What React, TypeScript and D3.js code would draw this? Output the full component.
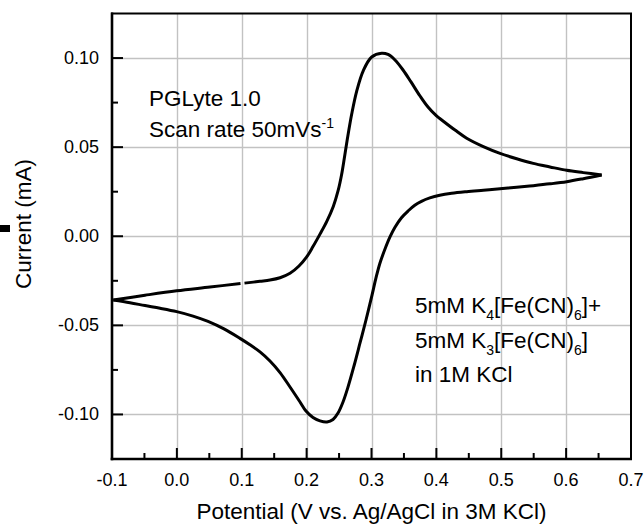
import React from 'react'
import * as d3 from 'd3'

// axis ticks
const xTicks = [-0.1, 0, 0.1, 0.2, 0.3, 0.4, 0.5, 0.6, 0.7]
const xMinorTicks = [-0.05, 0.05, 0.15, 0.25, 0.35, 0.45, 0.55, 0.65]
const yTicks = [-0.1, -0.05, 0, 0.05, 0.1]
const yMinorTicks = [-0.075, -0.025, 0.025, 0.075]
const xGrid = [0, 0.1, 0.2, 0.3, 0.4, 0.5, 0.6]

// forward (anodic) scan: [potential V, current mA], null = small gap in the trace
const forwardScan: ([number, number] | null)[] = [
  [-0.098, -0.0358],
  [-0.0491, -0.0331],
  [-0.0003, -0.0306],
  [0.0511, -0.0285],
  [0.0981, -0.0265],
  null,
  [0.1042, -0.0263],
  [0.1281, -0.0253],
  [0.1435, -0.0246],
  [0.159, -0.0233],
  [0.1744, -0.0208],
  [0.1882, -0.0167],
  [0.2001, -0.0116],
  [0.2098, -0.0058],
  [0.2206, 0.0012],
  [0.2309, 0.0082],
  [0.2411, 0.0167],
  [0.2484, 0.0254],
  [0.2538, 0.0344],
  [0.2584, 0.0445],
  [0.263, 0.0551],
  [0.2695, 0.0686],
  [0.2772, 0.0815],
  [0.2874, 0.093],
  [0.3003, 0.1006],
  [0.3157, 0.1027],
  [0.3254, 0.102],
  [0.3362, 0.0989],
  [0.3486, 0.0933],
  [0.3609, 0.0866],
  [0.3748, 0.0787],
  [0.3871, 0.0725],
  [0.3994, 0.0678],
  [0.4102, 0.0647],
  [0.4287, 0.0596],
  [0.4467, 0.055],
  [0.4724, 0.0503],
  [0.4981, 0.0465],
  [0.5238, 0.0435],
  [0.5494, 0.0409],
  [0.5751, 0.0389],
  [0.6008, 0.037],
  [0.6265, 0.0357],
  [0.6548, 0.0344]
]

// reverse (cathodic) scan
const reverseScan: [number, number][] = [
  [0.6548, 0.0344],
  [0.6265, 0.0323],
  [0.6009, 0.0306],
  [0.5751, 0.0294],
  [0.5494, 0.0284],
  [0.5237, 0.0275],
  [0.4981, 0.0266],
  [0.4724, 0.0258],
  [0.4467, 0.025],
  [0.4236, 0.0241],
  [0.4052, 0.023],
  [0.3899, 0.0215],
  [0.377, 0.0196],
  [0.3667, 0.0174],
  [0.3567, 0.0143],
  [0.3462, 0.0104],
  [0.3362, 0.005],
  [0.3285, -0.0004],
  [0.3208, -0.0072],
  [0.3131, -0.015],
  [0.3069, -0.0234],
  [0.3008, -0.033],
  [0.2915, -0.047],
  [0.2823, -0.0599],
  [0.273, -0.0728],
  [0.2638, -0.0846],
  [0.2561, -0.093],
  [0.2484, -0.0992],
  [0.2407, -0.1028],
  [0.2314, -0.1042],
  [0.2206, -0.1036],
  [0.2098, -0.1017],
  [0.199, -0.0981],
  [0.1898, -0.093],
  [0.1744, -0.0846],
  [0.159, -0.0765],
  [0.1435, -0.07],
  [0.1281, -0.0649],
  [0.1127, -0.0609],
  [0.0973, -0.0573],
  [0.0726, -0.052],
  [0.048, -0.0478],
  [0.0249, -0.0448],
  [-0.0003, -0.0423],
  [-0.026, -0.0404],
  [-0.0491, -0.0389],
  [-0.0723, -0.0373],
  [-0.098, -0.0358]
]

const font = "'Liberation Sans', Arial, sans-serif"

const left = 112
const right = 631
const top = 13.5
const bottom = 459

function App () {
  const x = d3.scaleLinear().domain([-0.1, 0.7]).range([left, right])
  const y = d3.scaleLinear().domain([-0.125, 0.125]).range([bottom, top])

  const line = d3.line<[number, number] | null>()
    .defined(d => d !== null)
    .x(d => x(d![0]))
    .y(d => y(d![1]))
    .curve(d3.curveCatmullRom.alpha(0.5))

  const sub = { fontSize: '14px' }

  return (
    <svg width={644} height={526} style={{ position: 'absolute', left: 0, top: 0 }} fontFamily={font}>
      <rect width={644} height={526} fill='#fff' />

      {/* grid */}
      <g stroke='#c2c2c2' strokeWidth={1.4}>
        {xGrid.map(d => (
          <line key={'gx' + d} x1={Math.round(x(d)) + 0.5} x2={Math.round(x(d)) + 0.5} y1={top} y2={bottom} />
        ))}
        {yTicks.map(d => (
          <line key={'gy' + d} x1={left} x2={right} y1={Math.round(y(d)) + 0.5} y2={Math.round(y(d)) + 0.5} />
        ))}
      </g>

      {/* CV curve */}
      <path d={line(forwardScan) || ''} fill='none' stroke='#000' strokeWidth={3} />
      <path d={line(reverseScan) || ''} fill='none' stroke='#000' strokeWidth={3} />

      {/* frame */}
      <rect x={left} y={top} width={right - left} height={bottom - top} fill='none' stroke='#000' strokeWidth={2} />
      <line x1={left} x2={left} y1={top - 1} y2={bottom + 1.3} stroke='#000' strokeWidth={2.6} />
      <line x1={left - 1.3} x2={right + 1} y1={bottom} y2={bottom} stroke='#000' strokeWidth={2.6} />

      {/* ticks */}
      <g stroke='#000' strokeWidth={2}>
        {xTicks.map(d => <line key={'xt' + d} x1={x(d)} x2={x(d)} y1={bottom} y2={bottom - 11} />)}
        {xMinorTicks.map(d => <line key={'xm' + d} x1={x(d)} x2={x(d)} y1={bottom} y2={bottom - 6} />)}
        {yTicks.map(d => <line key={'yt' + d} x1={left} x2={left + 11} y1={y(d)} y2={y(d)} />)}
        {yMinorTicks.map(d => <line key={'ym' + d} x1={left} x2={left + 6} y1={y(d)} y2={y(d)} />)}
      </g>
      <g fontSize='18px' fill='#000'>
        {xTicks.map(d => (
          <text key={'xl' + d} x={x(d)} y={486} textAnchor='middle'>{d.toFixed(1)}</text>
        ))}
        {yTicks.map(d => (
          <text key={'yl' + d} x={left - 13} y={y(d) + 6} textAnchor='end'>{d.toFixed(2)}</text>
        ))}
      </g>

      {/* axis titles */}
      <text x={(left + right) / 2} y={519} textAnchor='middle' fontSize='22.5px'>
        Potential (V vs. Ag/AgCl in 3M KCl)
      </text>
      <text transform='translate(31,224) rotate(-90)' textAnchor='middle' fontSize='22.5px'>
        Current (mA)
      </text>

      {/* stray legend mark at the left edge */}
      <rect x={0} y={225} width={10} height={7} fill='#000' />

      {/* annotations */}
      <g fontSize='22.5px' fill='#000'>
        <text x={149} y={106}>PGLyte 1.0</text>
        <text x={149} y={137}>
          Scan rate 50mVs<tspan dy={-9} style={sub}>-1</tspan>
        </text>
        <text x={415} y={313}>
          5mM K<tspan dy={7} style={sub}>4</tspan><tspan dy={-7}>[Fe(CN)</tspan><tspan dy={7} style={sub}>6</tspan><tspan dy={-7}>]+</tspan>
        </text>
        <text x={415} y={348}>
          5mM K<tspan dy={7} style={sub}>3</tspan><tspan dy={-7}>[Fe(CN)</tspan><tspan dy={7} style={sub}>6</tspan><tspan dy={-7}>]</tspan>
        </text>
        <text x={415} y={382}>in 1M KCl</text>
      </g>
    </svg>
  )
}

export default App
